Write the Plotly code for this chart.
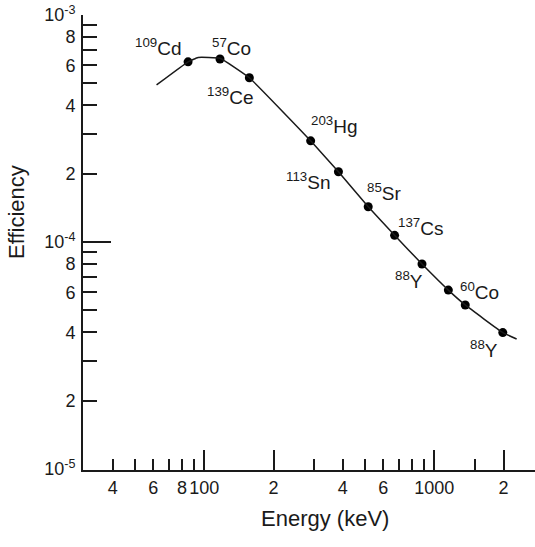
import plotly.graph_objects as go

# ---- data ----
isotopes = ["<sup>109</sup>Cd", "<sup>57</sup>Co", "<sup>139</sup>Ce", "<sup>203</sup>Hg",
            "<sup>113</sup>Sn", "<sup>85</sup>Sr", "<sup>137</sup>Cs", "<sup>88</sup>Y",
            "<sup>60</sup>Co", "<sup>88</sup>Y"]
point_energy = [85, 117, 157, 290, 383, 516, 672, 884, 1151, 1363, 1985]
point_eff = [6.22e-4, 6.40e-4, 5.29e-4, 2.79e-4, 2.04e-4, 1.43e-4, 1.07e-4,
             8.0e-5, 6.14e-5, 5.28e-5, 3.99e-5]
curve_energy = [62, 85, 94, 117, 157, 290, 383, 516, 672, 884, 1151, 1363, 1985, 2280]
curve_eff = [4.92e-4, 6.22e-4, 6.5e-4, 6.45e-4, 5.29e-4, 2.79e-4, 2.04e-4, 1.43e-4,
             1.07e-4, 8.0e-5, 6.14e-5, 5.28e-5, 3.99e-5, 3.74e-5]

x_tickvals = [40, 50, 60, 70, 80, 90, 100, 200, 300, 400, 500, 600, 700, 800, 900,
              1000, 1500, 2000]
x_ticktext = ["4", "", "6", "", "8", "", "100", "2", "", "4", "", "6", "", "", "",
              "1000", "", "2"]
y_tickvals = [1e-5, 2e-5, 3e-5, 4e-5, 5e-5, 6e-5, 7e-5, 8e-5, 9e-5,
              1e-4, 2e-4, 3e-4, 4e-4, 5e-4, 6e-4, 7e-4, 8e-4, 9e-4, 1e-3]
y_ticktext = ["10<sup>-5</sup>", "2", "", "4", "", "6", "", "8", "",
              "10<sup>-4</sup>", "2", "", "4", "", "6", "", "8", "", "10<sup>-3</sup>"]

# ---- layout geometry ----
W, H = 535, 547
L, R, T, B = 83, 0, 15, 77
PW, PH = W - L - R, H - T - B
XR = [1.4726, 3.4378]
YR = [-5.0044, -3.0]


def paper(px, py):
    return (px - L) / PW, (H - B - py) / PH


label_px = [(133, 47), (210, 47), (205, 96), (309, 125), (284, 181), (365, 192),
            (396, 227), (393, 280), (458, 291), (468, 349)]

FONT = "Liberation Sans, Arial, sans-serif"
INK = "#1a1a1a"

fig = go.Figure()
fig.add_trace(go.Scatter(x=curve_energy, y=curve_eff, mode="lines",
                         line=dict(color=INK, width=1.5, shape="spline", smoothing=0.3),
                         xaxis="x2", yaxis="y2", hoverinfo="skip", showlegend=False))
fig.add_trace(go.Scatter(x=point_energy, y=point_eff, mode="markers",
                         marker=dict(color="black", size=9, symbol="circle"),
                         showlegend=False))

axis_common = dict(type="log", showgrid=False, zeroline=False, ticks="inside",
                   tickcolor=INK, tickwidth=1.5, tickmode="array")
fig.update_layout(
    width=W, height=H, autosize=False,
    margin=dict(l=L, r=R, t=T, b=B),
    paper_bgcolor="white", plot_bgcolor="white",
    font=dict(family=FONT, color=INK, size=18),
    xaxis=dict(**axis_common, range=XR, tickvals=x_tickvals, ticktext=x_ticktext,
               ticklen=11, showline=True, linecolor=INK, linewidth=1.8,
               tickfont=dict(size=18), anchor="y"),
    yaxis=dict(**axis_common, range=YR, tickvals=y_tickvals, ticktext=y_ticktext,
               ticklen=14, showline=True, linecolor=INK, linewidth=1.8,
               tickfont=dict(size=18), anchor="x", ticklabelstandoff=2),
    xaxis2=dict(**axis_common, range=XR, tickvals=[100, 200, 1000, 2000], ticklen=20,
                showticklabels=False, showline=False, overlaying="x", anchor="y",
                side="bottom"),
    yaxis2=dict(**axis_common, range=YR, tickvals=[1e-5, 1e-4, 1e-3], ticklen=28,
                showticklabels=False, showline=False, overlaying="y", anchor="x",
                side="left"),
)

for name, (px, py) in zip(isotopes, label_px):
    xp, yp = paper(px, py)
    fig.add_annotation(text=name, x=xp, y=yp, xref="paper", yref="paper",
                       xanchor="left", yanchor="middle", showarrow=False,
                       font=dict(size=19, family=FONT, color=INK))

xp, yp = paper(325, 518)
fig.add_annotation(text="Energy (keV)", x=xp, y=yp, xref="paper", yref="paper",
                   xanchor="center", yanchor="middle", showarrow=False,
                   font=dict(size=22, family=FONT, color=INK))
xp, yp = paper(16, 212)
fig.add_annotation(text="Efficiency", x=xp, y=yp, xref="paper", yref="paper",
                   xanchor="center", yanchor="middle", showarrow=False, textangle=-90,
                   font=dict(size=22, family=FONT, color=INK))

fig.write_html("out.html")
